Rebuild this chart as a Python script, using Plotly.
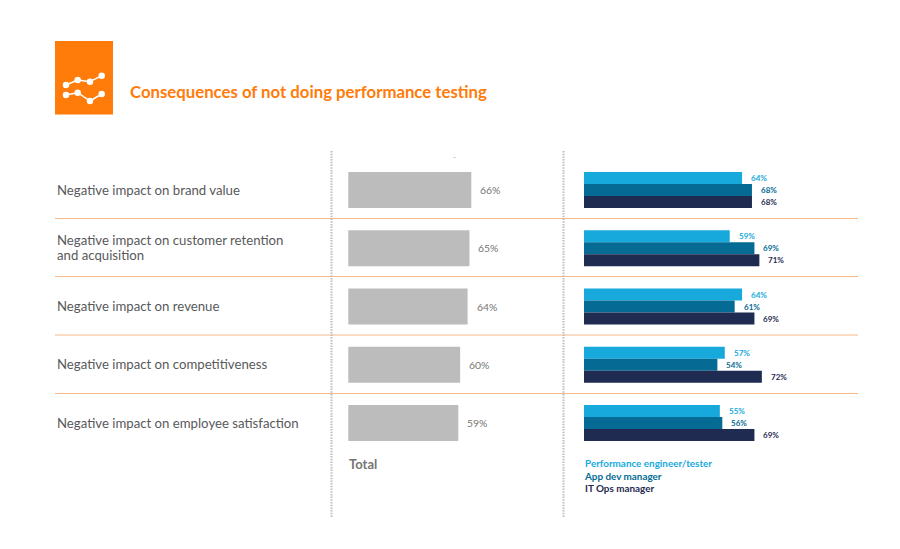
import plotly.graph_objects as go

W, H = 900, 549

categories = [
    "Negative impact on brand value",
    "Negative impact on customer retention<br>and acquisition",
    "Negative impact on revenue",
    "Negative impact on competitiveness",
    "Negative impact on employee satisfaction",
]
total = [66, 65, 64, 60, 59]
perf_engineer = [64, 59, 64, 57, 55]
app_dev = [68, 69, 61, 54, 56]
it_ops = [68, 71, 69, 72, 69]

series_names = ["Performance engineer/tester", "App dev manager", "IT Ops manager"]
series_colors = ["#17a9dc", "#056a94", "#1f2b50"]
series_values = [perf_engineer, app_dev, it_ops]

ORANGE = "#ff7b0a"
FONT = "Lato"


def px(x):
    return x / W


def py(y):
    return 1 - y / H


fig = go.Figure()

fig.add_trace(go.Bar(
    y=categories, x=total, orientation="h", xaxis="x", yaxis="y",
    marker=dict(color="#bcbcbc", line_width=0), width=0.618, hoverinfo="x+y", showlegend=False,
))
for name, color, vals, off in zip(series_names, series_colors, series_values, [-0.309, -0.103, 0.103]):
    fig.add_trace(go.Bar(
        y=categories, x=vals, name=name, orientation="h", xaxis="x2", yaxis="y",
        marker=dict(color=color, line_width=0), width=0.206, offset=off, showlegend=False,
    ))

# axes are pinned so that bars land on the pixel columns of the original
S1, X1 = 1.864, 348.3
S2, X2 = 2.47, 584
ROW, Y0 = 58.25, 190

fig.update_layout(
    width=W, height=H, autosize=False,
    margin=dict(l=0, r=0, t=0, b=0),
    paper_bgcolor="white", plot_bgcolor="white",
    barmode="overlay",
    font=dict(family=FONT),
    xaxis=dict(range=[-X1 / S1, (W - X1) / S1], domain=[0, 1], visible=False, fixedrange=True),
    xaxis2=dict(range=[-X2 / S2, (W - X2) / S2], domain=[0, 1], overlaying="x", visible=False, fixedrange=True),
    yaxis=dict(type="category", categoryorder="array", categoryarray=categories,
               range=[(H - Y0) / ROW, -Y0 / ROW], domain=[0, 1], visible=False, fixedrange=True),
)

anns = []
for cat, v in zip(categories, total):
    anns.append(dict(x=v, y=cat, xref="x", yref="y", text=f"{v}%", showarrow=False, xanchor="left",
                     xshift=7, font=dict(size=10.4, color="#757575", family=FONT)))
for name, color, vals, dy in zip(series_names, series_colors, series_values, [12, 0, -12]):
    for cat, v in zip(categories, vals):
        anns.append(dict(x=v, y=cat, xref="x2", yref="y", text=f"<b>{v}%</b>", showarrow=False,
                         xanchor="left", xshift=7, yshift=dy, font=dict(size=8, color=color, family=FONT)))

# row labels, split by hand because the wrapped one has tighter leading than plotly gives
for cat in categories:
    lines = cat.split("<br>")
    shifts = [8, -7] if len(lines) == 2 else [0.5]
    for line, dy in zip(lines, shifts):
        anns.append(dict(x=px(55), y=cat, xref="paper", yref="y", text=line, showarrow=False, xanchor="left",
                         yanchor="middle", yshift=dy, align="left",
                         font=dict(size=13.2, color="#58595b", family=FONT)))

anns.append(dict(x=px(127.5), y=py(91.2), xref="paper", yref="paper", xanchor="left", yanchor="middle",
                 showarrow=False, text="<b>Consequences of not doing performance testing</b>",
                 font=dict(size=16.75, color=ORANGE, family=FONT)))
anns.append(dict(x=px(347), y=py(464), xref="paper", yref="paper", xanchor="left", yanchor="middle",
                 showarrow=False, text="<b>Total</b>", font=dict(size=13, color="#757575", family=FONT)))
for name, color, y, x in zip(series_names, series_colors, [463, 475.5, 488], [582.7, 582.2, 582.7]):
    anns.append(dict(x=px(x), y=py(y), xref="paper", yref="paper", xanchor="left", yanchor="middle",
                     showarrow=False, text=f"<b>{name}</b>", font=dict(size=9.9, color=color, family=FONT)))
fig.update_layout(annotations=anns)

shapes = []
for y in [218.5, 276.5, 335, 393.5]:
    shapes.append(dict(type="line", xref="paper", yref="paper", x0=px(55), x1=px(858), y0=py(y), y1=py(y),
                       line=dict(color="#f6b98c", width=1)))
for x in [331.5, 563.5]:
    shapes.append(dict(type="line", xref="paper", yref="paper", x0=px(x), x1=px(x), y0=py(151), y1=py(518),
                       line=dict(color="#bdbdbd", width=2, dash="1.5px,1.2px")))

# stray speck above the first bar in the original
shapes.append(dict(type="line", xref="paper", yref="paper", x0=px(453.5), x1=px(455.5), y0=py(157.5), y1=py(157.5),
                   line=dict(color="#b5b5b5", width=0.8)))

# icon
shapes.append(dict(type="rect", xref="paper", yref="paper", x0=px(55), x1=px(113), y0=py(41), y1=py(114.5),
                   fillcolor=ORANGE, line_width=0))
icon_top = [(66, 85), (77.7, 80), (90, 81.7), (101.7, 75.7)]
icon_bottom = [(66, 95), (77.7, 92.7), (90, 101), (101.7, 94)]
for pts in [icon_top, icon_bottom]:
    for a, b in zip(pts, pts[1:]):
        shapes.append(dict(type="line", xref="paper", yref="paper", x0=px(a[0]), x1=px(b[0]),
                           y0=py(a[1]), y1=py(b[1]), line=dict(color="white", width=1.5)))
    for cx, cy in pts:
        r = 3.2
        shapes.append(dict(type="circle", xref="paper", yref="paper", x0=px(cx - r), x1=px(cx + r),
                           y0=py(cy - r), y1=py(cy + r), fillcolor="white", line_width=0))
fig.update_layout(shapes=shapes)

fig.write_html("out.html", config={"displayModeBar": False},
               post_script="document.body.style.margin='0';document.documentElement.style.overflow='hidden';")
